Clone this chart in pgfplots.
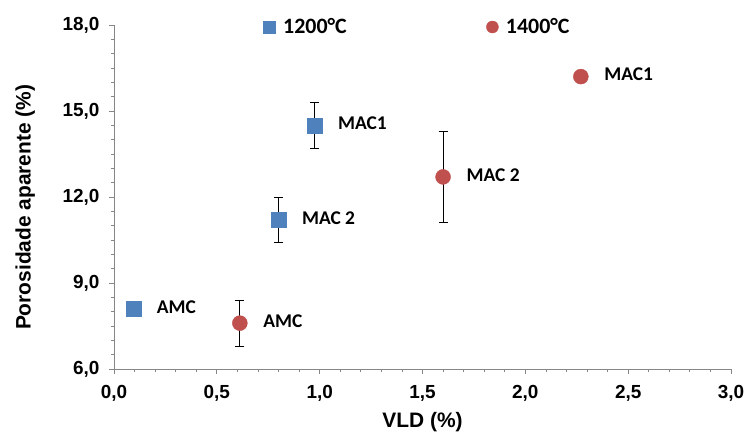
\documentclass[border=0pt]{standalone}
\usepackage{fontspec}
\setmainfont{Liberation Sans}
\newfontfamily\calibri{Carlito}
\usepackage{pgfplots}
\usepackage{pgfplotstable}
\pgfplotsset{compat=1.18}
\definecolor{cblue}{HTML}{4F81BD}
\definecolor{cred}{HTML}{C0504D}
\definecolor{axgrey}{HTML}{868686}

\pgfplotstableread{
x y ey label
0.094 8.1 0 AMC
0.80 11.2 0.8 {MAC 2}
0.975 14.5 0.8 MAC1
}\tblue
\pgfplotstableread{
x y ey label
0.612 7.6 0.8 AMC
1.60 12.7 1.6 {MAC 2}
2.27 16.2 0 MAC1
}\tred

\begin{document}
\begin{tikzpicture}
\useasboundingbox (-114bp,-69bp) rectangle (632bp,369bp);
\begin{axis}[
  scale only axis,
  width=617bp, height=344bp,
  xmin=0, xmax=3, ymin=6, ymax=18,
  xtick={0,0.5,...,3.0}, ytick={6,9,...,18},
  minor x tick num=4, minor y tick num=5,
  axis x line*=bottom, axis y line*=left,
  axis line style={axgrey, line width=0.8pt, -},
  every tick/.style={axgrey, line width=0.8pt},
  tick align=outside,
  major tick length=5bp, minor tick length=3bp,
  clip=false,
  /pgf/number format/.cd, use comma, fixed, fixed zerofill, precision=1, assume math mode=true,
  /pgfplots/.cd,
  tick label style={font=\bfseries\fontsize{19}{19}\selectfont},
  xticklabel style={yshift=-8bp},
  yticklabel style={xshift=-6bp},
  xlabel={VLD (\%)}, ylabel={Porosidade aparente (\%)},
  label style={font=\bfseries\fontsize{21}{21}\selectfont},
  xlabel style={at={(axis description cs:0.5,-0.154)}, anchor=center},
  ylabel style={at={(axis description cs:-0.144,0.47)}, anchor=center},
  nodes near coords style={font=\calibri\bfseries\fontsize{19.5}{19.5}\selectfont, anchor=west, xshift=20bp, yshift=2bp, black},
]
\addplot[only marks, mark=square*, mark size=7.5bp, color=cblue,
  nodes near coords, point meta=explicit symbolic,
  error bars/.cd, y dir=both, y explicit, error bar style={black, line width=0.9pt},
  error mark options={black, mark size=4.5bp, rotate=90, line width=0.9pt}]
  table[x=x, y=y, y error=ey, meta=label] {\tblue};
\addplot[only marks, mark=*, mark size=7.5bp, color=cred,
  nodes near coords, point meta=explicit symbolic,
  error bars/.cd, y dir=both, y explicit, error bar style={black, line width=0.9pt},
  error mark options={black, mark size=4.5bp, rotate=90, line width=0.9pt}]
  table[x=x, y=y, y error=ey, meta=label] {\tred};
\addplot[only marks, mark=square*, mark size=6bp, color=cblue,
  nodes near coords, point meta=explicit symbolic,
  nodes near coords style={font=\calibri\bfseries\fontsize{22}{22}\selectfont, xshift=-10bp, yshift=-1bp}]
  coordinates {(0.757,17.93) [1200°C]};
\addplot[only marks, mark=*, mark size=6bp, color=cred,
  nodes near coords, point meta=explicit symbolic,
  nodes near coords style={font=\calibri\bfseries\fontsize{22}{22}\selectfont, xshift=-10bp, yshift=-1bp}]
  coordinates {(1.84,17.93) [1400°C]};
\end{axis}
\end{tikzpicture}
\end{document}
